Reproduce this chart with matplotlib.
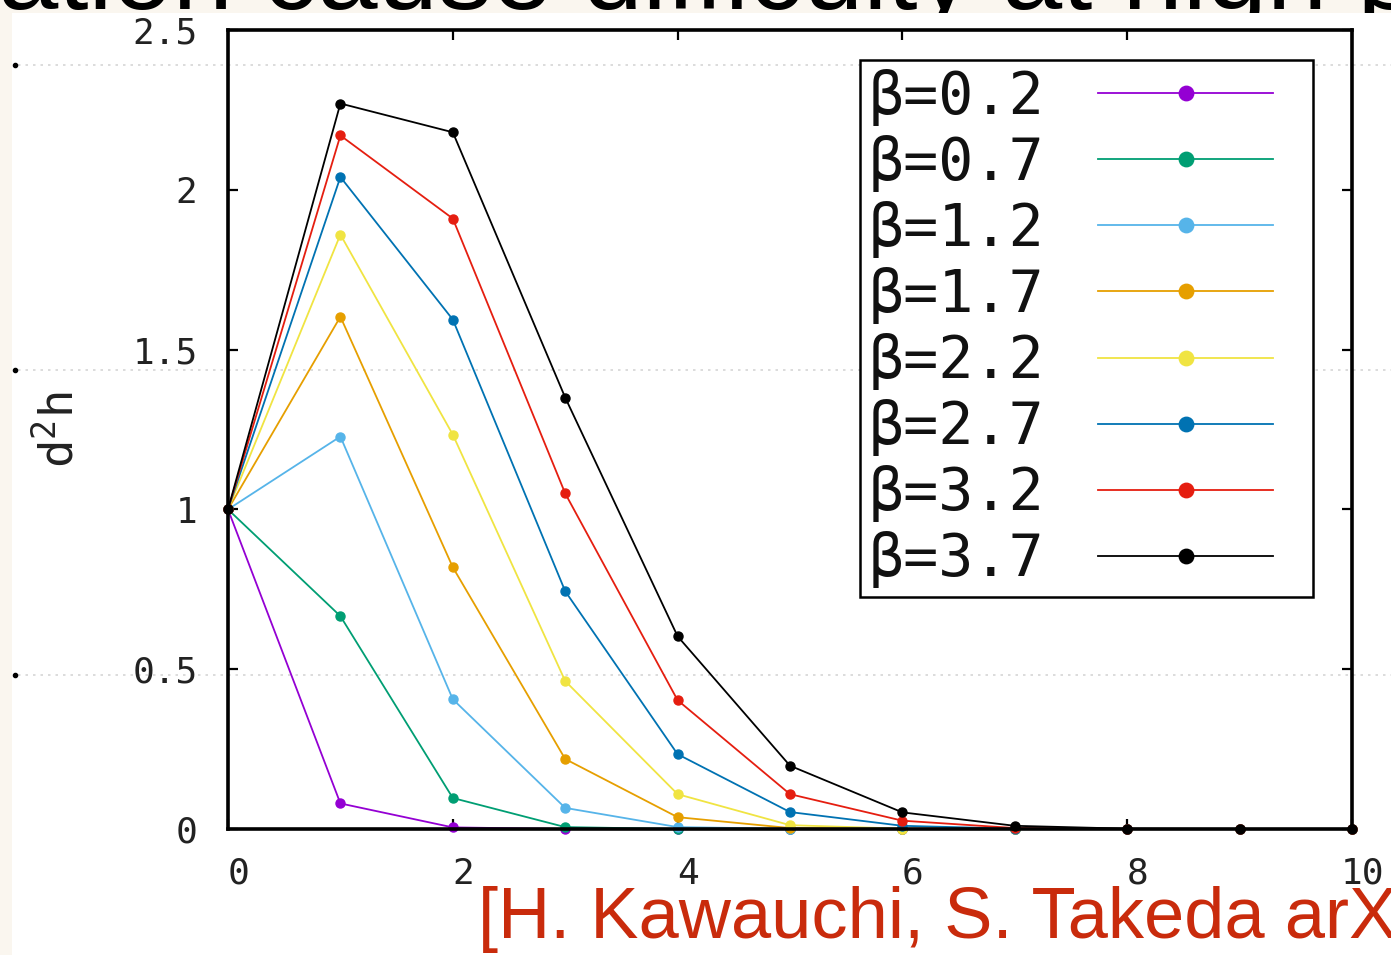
import numpy as np
import matplotlib
matplotlib.use("Agg")
import matplotlib.pyplot as plt
import matplotlib.transforms as mtransforms
from matplotlib.patches import Rectangle
from matplotlib.lines import Line2D

plt.rcParams['mathtext.fontset'] = 'custom'
plt.rcParams['mathtext.rm'] = 'DejaVu Sans Mono'
plt.rcParams['mathtext.it'] = 'DejaVu Sans Mono'

# ---------------- data ----------------
steps = [0, 1, 2, 3, 4, 5, 6, 7, 8, 9, 10]
labels = ["β=0.2", "β=0.7", "β=1.2", "β=1.7", "β=2.2", "β=2.7", "β=3.2", "β=3.7"]
colors = ["#9400D3", "#009E73", "#56B4E9", "#E69F00", "#F0E442", "#0072B2", "#E51E10", "#000000"]
beta_0_2 = [1.0, 0.080, 0.005, 0.0, 0.0, 0.0, 0.0, 0.0, 0.0, 0.0, 0.0]
beta_0_7 = [1.0, 0.666, 0.097, 0.006, 0.0, 0.0, 0.0, 0.0, 0.0, 0.0, 0.0]
beta_1_2 = [1.0, 1.228, 0.406, 0.066, 0.006, 0.0005, 0.0, 0.0, 0.0, 0.0, 0.0]
beta_1_7 = [1.0, 1.603, 0.819, 0.219, 0.037, 0.003, 0.0, 0.0, 0.0, 0.0, 0.0]
beta_2_2 = [1.0, 1.860, 1.234, 0.463, 0.109, 0.012, 0.001, 0.0, 0.0, 0.0, 0.0]
beta_2_7 = [1.0, 2.040, 1.594, 0.744, 0.234, 0.053, 0.010, 0.001, 0.0, 0.0, 0.0]
beta_3_2 = [1.0, 2.170, 1.910, 1.050, 0.403, 0.109, 0.026, 0.003, 0.0, 0.0, 0.0]
beta_3_7 = [1.0, 2.270, 2.180, 1.350, 0.603, 0.198, 0.052, 0.010, 0.001, 0.0, 0.0]
series = [beta_0_2, beta_0_7, beta_1_2, beta_1_7, beta_2_2, beta_2_7, beta_3_2, beta_3_7]
xticks = [0, 2, 4, 6, 8, 10]
xticklabels = ["0", "2", "4", "6", "8", "10"]
yticks = [0, 0.5, 1, 1.5, 2, 2.5]
yticklabels = ["0", "0.5", "1", "1.5", "2", "2.5"]
citation = "[H. Kawauchi, S. Takeda arXiv"
title_text = "ation cause difficulty at high β, To"

# ---------------- figure ----------------
W, H = 1391, 955
fig = plt.figure(figsize=(W / 100, H / 100), dpi=100)
fig.patch.set_facecolor("#FAF6EF")
fig.patches.append(Rectangle((12 / W, 0), 1 - 12 / W, 1 - 13 / H, transform=fig.transFigure,
                             facecolor="white", edgecolor="none", zorder=-10))

ax = fig.add_axes([228 / W, 1 - 829 / H, (1352 - 228) / W, (829 - 30) / H])
ax.set_facecolor("none")
ax.set_xlim(0, 10)
ax.set_ylim(0, 2.5)

for ys, c, lab in zip(series, colors, labels):
    ax.plot(steps, ys, color=c, lw=1.3, marker="o", markersize=6.5, label=lab,
            clip_on=False, zorder=3)

for sp in ax.spines.values():
    sp.set_linewidth(2.6)
    sp.set_color("black")
    sp.set_zorder(4)

mono = "DejaVu Sans Mono"
ax.set_xticks(xticks)
ax.set_xticklabels(xticklabels, fontfamily=mono, fontsize=26, color="#222222")
ax.set_yticks(yticks)
ax.set_yticklabels(yticklabels, fontfamily=mono, fontsize=26, color="#222222")
ax.tick_params(axis="both", direction="in", length=7, width=1.6, top=True, right=True)
ax.tick_params(axis="x", pad=20)
ax.tick_params(axis="y", pad=22)
shift = mtransforms.ScaledTranslation(10 / 100, 0, fig.dpi_scale_trans)
for lab in ax.get_xticklabels():
    lab.set_transform(lab.get_transform() + shift)

# faint dotted background guide lines (from the slide behind)
for ypx in [65, 370, 675]:
    fig.lines.append(Line2D([18 / W, 1], [1 - ypx / H, 1 - ypx / H], transform=fig.transFigure,
                            color="#D6D6D6", lw=1.2, ls=(0, (1.5, 3)), zorder=-5))
    fig.lines.append(Line2D([15 / W], [1 - ypx / H], transform=fig.transFigure,
                            color="black", marker="o", markersize=3, ls="none", zorder=-5))

# y label
fig.text(60 / W, 1 - 430 / H, "d$^2$h", rotation=90, ha="center", va="center",
         fontsize=34, fontfamily=mono, color="#222222")

# legend
leg = ax.legend(loc="upper left", bbox_to_anchor=(860 / W, 1 - 587 / H, (1313 - 860) / W, (587 - 60) / H),
                bbox_transform=fig.transFigure, mode="expand", borderaxespad=0,
                markerfirst=False, prop={"family": mono, "size": 42},
                handlelength=3.0, handletextpad=0.92, labelspacing=0.155,
                borderpad=0.15, markerscale=1.6, frameon=True, fancybox=False)
leg.get_frame().set_edgecolor("black")
leg.get_frame().set_linewidth(1.8)
leg.get_frame().set_alpha(1)
leg.get_frame().set_facecolor("white")
for t in leg.get_texts():
    t.set_color("#111111")

# citation text
fig.text(478 / W, 1 - 938 / H, citation, ha="left", va="baseline",
         fontsize=52, fontfamily="Liberation Sans", color="#C92B0C")

# cut-off slide title (mostly hidden behind the white panel)
fig.text(-2 / W, 1 - 9 / H, title_text, ha="left", va="baseline",
         fontsize=78, fontfamily="Liberation Sans", color="black", zorder=-20)

fig.savefig("out.png", dpi=100)
